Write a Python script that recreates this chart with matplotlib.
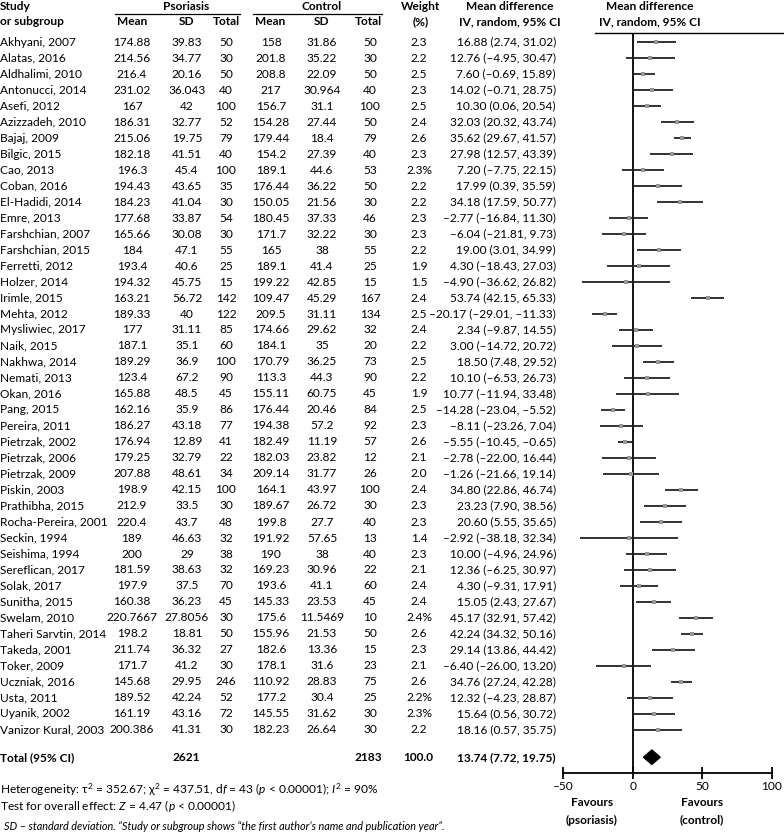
import matplotlib
matplotlib.use('Agg')
import matplotlib.pyplot as plt

plt.rcParams['font.family'] = ['Lato', 'DejaVu Sans']
plt.rcParams['mathtext.fontset'] = 'custom'
plt.rcParams['mathtext.rm'] = 'Lato'
plt.rcParams['mathtext.it'] = 'Lato:italic'
plt.rcParams['mathtext.bf'] = 'Lato:bold'

# ---------------- data ----------------
studies = ["Akhyani, 2007", "Alatas, 2016", "Aldhalimi, 2010", "Antonucci, 2014", "Asefi, 2012",
           "Azizzadeh, 2010", "Bajaj, 2009", "Bilgic, 2015", "Cao, 2013", "Coban, 2016",
           "El-Hadidi, 2014", "Emre, 2013", "Farshchian, 2007", "Farshchian, 2015", "Ferretti, 2012",
           "Holzer, 2014", "Irimle, 2015", "Mehta, 2012", "Mysliwiec, 2017", "Naik, 2015",
           "Nakhwa, 2014", "Nemati, 2013", "Okan, 2016", "Pang, 2015", "Pereira, 2011",
           "Pietrzak, 2002", "Pietrzak, 2006", "Pietrzak, 2009", "Piskin, 2003", "Prathibha, 2015",
           "Rocha-Pereira, 2001", "Seckin, 1994", "Seishima, 1994", "Sereflican, 2017", "Solak, 2017",
           "Sunitha, 2015", "Swelam, 2010", "Taheri Sarvtin, 2014", "Takeda, 2001", "Toker, 2009",
           "Uczniak, 2016", "Usta, 2011", "Uyanik, 2002", "Vanizor Kural, 2003"]
pso_mean = ["174.88", "214.56", "216.4", "231.02", "167", "186.31", "215.06", "182.18", "196.3", "194.43",
            "184.23", "177.68", "165.66", "184", "193.4", "194.32", "163.21", "189.33", "177", "187.1",
            "189.29", "123.4", "165.88", "162.16", "186.27", "176.94", "179.25", "207.88", "198.9", "212.9",
            "220.4", "189", "200", "181.59", "197.9", "160.38", "220.7667", "198.2", "211.74", "171.7",
            "145.68", "189.52", "161.19", "200.386"]
pso_sd = ["39.83", "34.77", "20.16", "36.043", "42", "32.77", "19.75", "41.51", "45.4", "43.65",
          "41.04", "33.87", "30.08", "47.1", "40.6", "45.75", "56.72", "40", "31.11", "35.1",
          "36.9", "67.2", "48.5", "35.9", "43.18", "12.89", "32.79", "48.61", "42.15", "33.5",
          "43.7", "46.63", "29", "38.63", "37.5", "36.23", "27.8056", "18.81", "36.32", "41.2",
          "29.95", "42.24", "43.16", "41.31"]
pso_n = [50, 30, 50, 40, 100, 52, 79, 40, 100, 35, 30, 54, 30, 55, 25, 15, 142, 122, 85, 60,
         100, 90, 45, 86, 77, 41, 22, 34, 100, 30, 48, 32, 38, 32, 70, 45, 30, 50, 27, 30,
         246, 52, 72, 30]
ctl_mean = ["158", "201.8", "208.8", "217", "156.7", "154.28", "179.44", "154.2", "189.1", "176.44",
            "150.05", "180.45", "171.7", "165", "189.1", "199.22", "109.47", "209.5", "174.66", "184.1",
            "170.79", "113.3", "155.11", "176.44", "194.38", "182.49", "182.03", "209.14", "164.1", "189.67",
            "199.8", "191.92", "190", "169.23", "193.6", "145.33", "175.6", "155.96", "182.6", "178.1",
            "110.92", "177.2", "145.55", "182.23"]
ctl_sd = ["31.86", "35.22", "22.09", "30.964", "31.1", "27.44", "18.4", "27.39", "44.6", "36.22",
          "21.56", "37.33", "32.22", "38", "41.4", "42.85", "45.29", "31.11", "29.62", "35",
          "36.25", "44.3", "60.75", "20.46", "57.2", "11.19", "23.82", "31.77", "43.97", "26.72",
          "27.7", "57.65", "38", "30.96", "41.1", "23.53", "11.5469", "21.53", "13.36", "31.6",
          "28.83", "30.4", "31.62", "26.64"]
ctl_n = [50, 30, 50, 40, 100, 50, 79, 40, 53, 50, 30, 46, 30, 55, 25, 15, 167, 134, 32, 20,
         73, 90, 45, 84, 92, 57, 12, 26, 100, 30, 40, 13, 40, 22, 60, 45, 10, 50, 15, 23,
         75, 25, 30, 30]
weight = ["2.3", "2.2", "2.5", "2.3", "2.5", "2.4", "2.6", "2.3", "2.3%", "2.2",
          "2.2", "2.3", "2.3", "2.2", "1.9", "1.5", "2.4", "2.5", "2.4", "2.2",
          "2.5", "2.2", "1.9", "2.5", "2.3", "2.6", "2.1", "2.0", "2.4", "2.3",
          "2.3", "1.4", "2.3", "2.1", "2.4", "2.4", "2.4%", "2.6", "2.3", "2.1",
          "2.6", "2.2%", "2.3%", "2.2"]
md = [16.88, 12.76, 7.60, 14.02, 10.30, 32.03, 35.62, 27.98, 7.20, 17.99,
      34.18, -2.77, -6.04, 19.00, 4.30, -4.90, 53.74, -20.17, 2.34, 3.00,
      18.50, 10.10, 10.77, -14.28, -8.11, -5.55, -2.78, -1.26, 34.80, 23.23,
      20.60, -2.92, 10.00, 12.36, 4.30, 15.05, 45.17, 42.24, 29.14, -6.40,
      34.76, 12.32, 15.64, 18.16]
lo = [2.74, -4.95, -0.69, -0.71, 0.06, 20.32, 29.67, 12.57, -7.75, 0.39,
      17.59, -16.84, -21.81, 3.01, -18.43, -36.62, 42.15, -29.01, -9.87, -14.72,
      7.48, -6.53, -11.94, -23.04, -23.26, -10.45, -22.00, -21.66, 22.86, 7.90,
      5.55, -38.18, -4.96, -6.25, -9.31, 2.43, 32.91, 34.32, 13.86, -26.00,
      27.24, -4.23, 0.56, 0.57]
hi = [31.02, 30.47, 15.89, 28.75, 20.54, 43.74, 41.57, 43.39, 22.15, 35.59,
      50.77, 11.30, 9.73, 34.99, 27.03, 26.82, 65.33, -11.33, 14.55, 20.72,
      29.52, 26.73, 33.48, -5.52, 7.04, -0.65, 16.44, 19.14, 46.74, 38.56,
      35.65, 32.34, 24.96, 30.97, 17.91, 27.67, 57.42, 50.16, 44.42, 13.20,
      42.28, 28.87, 30.72, 35.75]
total_pso_n = 2621
total_ctl_n = 2183
total_weight = "100.0"
total_md, total_lo, total_hi = 13.74, 7.72, 19.75
xticks = [-50, 0, 50, 100]
het_text = (r"Heterogeneity: $\mathrm{\tau}^2$ = 352.67; $\mathrm{\chi}^2$ = 437.51, d$f$ = 43 "
            r"($p$ < 0.00001); $I^2$ = 90%")
test_text = r"Test for overall effect: $Z$ = 4.47 ($p$ < 0.00001)"
footnote = "SD – standard deviation. \u201cStudy or subgroup shows \u201cthe first author\u2019s name and publication year\u201d."

DASH = "\u2013"


def fmt(v):
    s = f"{abs(v):.2f}"
    return (DASH + s) if v < 0 else s


# ---------------- layout ----------------
W, H = 784, 834
fig = plt.figure(figsize=(W / 100, H / 100), dpi=100)
ROW0, DY = 42.0, 16.0          # pixel y of first row, row spacing


def ry(px):
    return (px - ROW0) / DY


tab = fig.add_axes([0, 0, 1, 1])
tab.set_xlim(0, W)
tab.set_ylim(ry(H), ry(0))
tab.axis('off')

FS = 8.6
n = len(studies)
total_row = n + 0.7

# header
hb = dict(fontsize=FS, fontweight='bold', va='center')
tab.text(0, ry(7), "Study", ha='left', **hb)
tab.text(0, ry(21.5), "or subgroup", ha='left', **hb)
tab.text(186, ry(7), "Psoriasis", ha='center', **hb)
tab.text(322, ry(7), "Control", ha='center', **hb)
tab.plot([115, 240], [ry(13.5)] * 2, color='black', lw=0.9)
tab.plot([253, 382], [ry(13.5)] * 2, color='black', lw=0.9)
cols = [(132, "Mean"), (187, "SD"), (226, "Total"), (270, "Mean"), (322, "SD"), (368, "Total")]
for x, t in cols:
    tab.text(x, ry(21.5), t, ha='center', **hb)
tab.text(421, ry(7), "Weight", ha='center', **hb)
tab.text(421, ry(21.5), "(%)", ha='center', **hb)
tab.text(510, ry(7), "Mean difference", ha='center', **hb)
tab.text(510, ry(21.5), "IV, random, 95% CI", ha='center', **hb)
tab.text(650, ry(7), "Mean difference", ha='center', **hb)
tab.text(650, ry(21.5), "IV, random, 95% CI", ha='center', **hb)
tab.plot([595, W], [ry(32.5)] * 2, color='black', lw=1.0)

# body rows
for i in range(n):
    kw = dict(fontsize=FS, va='center')
    tab.text(0, i, studies[i], ha='left', **kw)
    tab.text(132, i, pso_mean[i], ha='center', **kw)
    tab.text(187, i, pso_sd[i], ha='center', **kw)
    tab.text(226, i, str(pso_n[i]), ha='center', **kw)
    tab.text(271, i, ctl_mean[i], ha='center', **kw)
    tab.text(322, i, ctl_sd[i], ha='center', **kw)
    tab.text(370, i, str(ctl_n[i]), ha='center', **kw)
    tab.text(419, i, weight[i], ha='center', **kw)
    tab.text(556, i, f"{fmt(md[i])} ({fmt(lo[i])}, {fmt(hi[i])})", ha='right', **kw)

# total row
tb = dict(fontsize=FS, fontweight='bold', va='center')
tab.text(0, total_row, "Total (95% CI)", ha='left', **tb)
tab.text(186, total_row, str(total_pso_n), ha='center', **tb)
tab.text(368, total_row, str(total_ctl_n), ha='center', **tb)
tab.text(418, total_row, total_weight, ha='center', **tb)
tab.text(556, total_row, f"{fmt(total_md)} ({fmt(total_lo)}, {fmt(total_hi)})", ha='right', **tb)

# bottom texts
tab.text(0, ry(790), het_text, ha='left', va='center', fontsize=FS)
tab.text(0, ry(806), test_text, ha='left', va='center', fontsize=FS)
tab.text(4, ry(827), footnote, ha='left', va='center', fontsize=7.8, style='italic')
tab.text(592, ry(803), "Favours", ha='center', va='center', fontsize=FS, fontweight='bold')
tab.text(592, ry(820), "(psoriasis)", ha='center', va='center', fontsize=FS, fontweight='bold')
tab.text(702, ry(803), "Favours", ha='center', va='center', fontsize=FS, fontweight='bold')
tab.text(702, ry(820), "(control)", ha='center', va='center', fontsize=FS, fontweight='bold')

# ---------------- forest plot ----------------
X0PX, PXU = 632.7, 1.393      # pixel of zero, pixels per unit
AX_L, AX_R, AX_T, AX_B = 540, 784, 34, 773
fa = fig.add_axes([AX_L / W, (H - AX_B) / H, (AX_R - AX_L) / W, (AX_B - AX_T) / H])
fa.set_xlim((AX_L - X0PX) / PXU, (AX_R - X0PX) / PXU)
fa.set_ylim(ry(AX_B), ry(AX_T))
fa.patch.set_alpha(0)
for s in ['top', 'right', 'left']:
    fa.spines[s].set_visible(False)
fa.spines['bottom'].set_bounds(xticks[0], xticks[-1])
fa.spines['bottom'].set_linewidth(1.3)
fa.set_yticks([])
fa.set_xticks(xticks)
fa.set_xticklabels([(DASH + str(-t)) if t < 0 else str(t) for t in xticks])
fa.tick_params(axis='x', direction='inout', length=8, width=1.3, labelsize=FS, pad=2)

fa.axvline(0, color='black', lw=1.3)
for i in range(n):
    fa.plot([lo[i], hi[i]], [i, i], color='#222222', lw=1.3, solid_capstyle='butt')
fa.plot(md, list(range(n)), linestyle='none', marker='s', markersize=3,
        color='#8c9c9a', markeredgewidth=0)
fa.fill([total_lo, total_md, total_hi, total_md],
        [total_row, total_row - 0.45, total_row, total_row + 0.45], color='black')

fig.savefig('out.png', dpi=100)
